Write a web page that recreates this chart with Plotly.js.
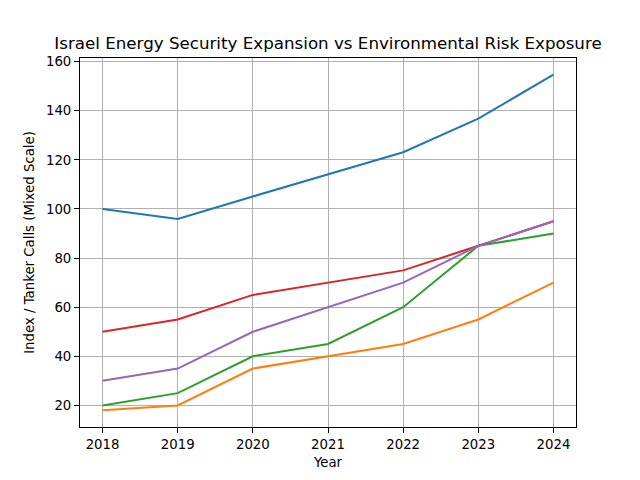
<!DOCTYPE html>
<html>
<head>
<meta charset="utf-8">
<script src="https://cdn.plot.ly/plotly-3.0.1.min.js"></script>
<style>html,body{margin:0;padding:0;background:#fff}#chart{width:640px;height:480px}</style>
</head>
<body>
<div id="chart"></div>
<script>
const years = [2018, 2019, 2020, 2021, 2022, 2023, 2024];
const energySecurityIndex = [100, 95.9, 105.1, 114.2, 123.1, 136.8, 154.7];
const tankerCalls = [18, 20, 35, 40, 45, 55, 70];
const spillRiskIndex = [20, 25, 40, 45, 60, 85, 90];
const gasProductionIndex = [50, 55, 65, 70, 75, 85, 95];
const environmentalExposure = [30, 35, 50, 60, 70, 85, 95];
const yTicks = [20, 40, 60, 80, 100, 120, 140, 160];

const series = [
  {name: 'Energy Security Index', y: energySecurityIndex, color: '#1f77b4'},
  {name: 'Tanker Calls', y: tankerCalls, color: '#ff7f0e'},
  {name: 'Spill Risk Index', y: spillRiskIndex, color: '#2ca02c'},
  {name: 'Gas Production Index', y: gasProductionIndex, color: '#d62728'},
  {name: 'Environmental Exposure', y: environmentalExposure, color: '#9467bd'}
];

const traces = series.map(s => ({
  x: years, y: s.y, name: s.name, type: 'scatter', mode: 'lines',
  line: {color: s.color, width: 2}
}));

const axisCommon = {
  showline: true, linecolor: '#000', linewidth: 1, mirror: true,
  ticks: 'outside', ticklen: 5, tickwidth: 1, tickcolor: '#000',
  showgrid: true, gridcolor: '#b0b0b0', gridwidth: 1,
  zeroline: false,
  tickfont: {family: 'DejaVu Sans', size: 13.3, color: '#000'}
};

const layout = {
  width: 640, height: 480,
  paper_bgcolor: '#fff', plot_bgcolor: '#fff',
  margin: {l: 80, r: 64, t: 58, b: 53, pad: 0},
  showlegend: false,
  font: {family: 'DejaVu Sans', color: '#000'},
  title: {
    text: 'Israel Energy Security Expansion vs Environmental Risk Exposure',
    font: {family: 'DejaVu Sans', size: 16.7, color: '#000'},
    x: 0.5, xref: 'paper', xanchor: 'center',
    y: 1, yref: 'paper', yanchor: 'bottom', pad: {b: 9}
  },
  xaxis: Object.assign({}, axisCommon, {
    range: [2017.7, 2024.3],
    tickvals: years, ticktext: years.map(String),
    title: {text: 'Year', font: {family: 'DejaVu Sans', size: 13.3, color: '#000'}, standoff: 6}
  }),
  yaxis: Object.assign({}, axisCommon, {
    range: [11.2, 161.5],
    tickvals: yTicks, ticktext: yTicks.map(String),
    title: {text: 'Index / Tanker Calls (Mixed Scale)', font: {family: 'DejaVu Sans', size: 13.3, color: '#000'}, standoff: 8}
  })
};

Plotly.newPlot('chart', traces, layout, {staticPlot: true, displayModeBar: false});
</script>
</body>
</html>
